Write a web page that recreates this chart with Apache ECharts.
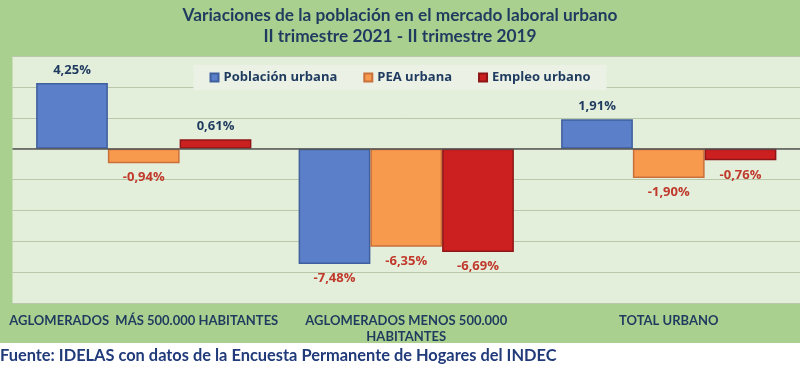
<!DOCTYPE html>
<html><head><meta charset="utf-8">
<script src="https://cdn.jsdelivr.net/npm/echarts@6/dist/echarts.min.js"></script>
<style>html,body{margin:0;padding:0;background:#fff}#c{width:800px;height:369px}</style>
</head><body><div id="c"></div>
<script>
const categories = ['AGLOMERADOS  MÁS 500.000 HABITANTES', 'AGLOMERADOS MENOS 500.000\nHABITANTES', 'TOTAL URBANO'];
const seriesNames = ['Población urbana', 'PEA urbana', 'Empleo urbano'];
const poblacionUrbana = [4.25, -7.48, 1.91];
const peaUrbana = [-0.94, -6.35, -1.90];
const empleoUrbano = [0.61, -6.69, -0.76];
const titleText = 'Variaciones de la población en el mercado laboral urbano\nII trimestre 2021 - II trimestre 2019';
const sourceText = 'Fuente: IDELAS con datos de la Encuesta Permanente de Hogares del INDEC';

const colors = ['#5b80c9', '#f79a4e', '#cc2020'];
const borders = ['#3f5f9e', '#c9703a', '#8e1616'];
const navy = '#1f3a5f';
const red = '#c0392b';

function mk(vals) {
  return vals.map(v => ({
    value: v,
    label: {
      position: v < 0 ? 'bottom' : 'top',
      distance: v < 0 ? 8 : 6,
      color: v < 0 ? red : navy
    }
  }));
}
const allVals = [poblacionUrbana, peaUrbana, empleoUrbano];

const chart = echarts.init(document.getElementById('c'), null, {renderer: 'canvas'});
chart.setOption({
  backgroundColor: '#ffffff',
  animation: false,
  graphic: [{
    type: 'rect', left: 0, top: 0, z: -10,
    shape: {width: 800, height: 343},
    style: {fill: '#a9d08e'}
  }],
  title: [{
    text: titleText, left: 'center', top: 0,
    textStyle: {fontFamily: 'Lato', fontSize: 17.3, fontWeight: 'bold', color: navy, lineHeight: 21}
  }, {
    text: sourceText, left: 0, top: 348, padding: 0,
    textStyle: {fontFamily: 'Lato', fontSize: 16.4, fontWeight: 'bold', color: '#203a7a'}
  }],
  legend: {
    top: 65, left: 'center',
    data: seriesNames,
    icon: 'rect', itemWidth: 8, itemHeight: 8, itemGap: 26,
    backgroundColor: '#ebf2e5',
    padding: [6, 16],
    textStyle: {fontFamily: 'Open Sans', fontSize: 13, fontWeight: 'bold', color: navy}
  },
  grid: {
    left: 12.5, top: 56, width: 797, height: 247,
    show: true, backgroundColor: '#e3eedb', borderWidth: 0, containLabel: false
  },
  xAxis: {
    type: 'category', data: categories,
    axisLine: {show: false}, axisTick: {show: false},
    axisLabel: {interval: 0, margin: 10, fontFamily: 'Lato', fontSize: 13, fontWeight: 'bold', color: navy, lineHeight: 16}
  },
  yAxis: {
    type: 'value', min: -10, max: 6, interval: 2,
    axisLabel: {show: false}, axisLine: {show: false}, axisTick: {show: false},
    splitLine: {lineStyle: {color: '#b9c8ab', width: 1}}
  },
  series: seriesNames.map((name, i) => ({
    name, type: 'bar',
    data: mk(allVals[i]),
    barGap: '0%', barCategoryGap: '18%',
    itemStyle: {color: colors[i], borderColor: borders[i], borderWidth: 1.5},
    label: {
      show: true,
      fontFamily: 'Open Sans', fontSize: 13, fontWeight: 'bold',
      formatter: p => p.value.toFixed(2).replace('.', ',') + '%'
    },
    markLine: i === 0 ? {
      silent: true, symbol: 'none', label: {show: false},
      lineStyle: {color: '#555', width: 1.5, type: 'solid'},
      data: [{yAxis: 0}]
    } : undefined
  }))
});
</script></body></html>
